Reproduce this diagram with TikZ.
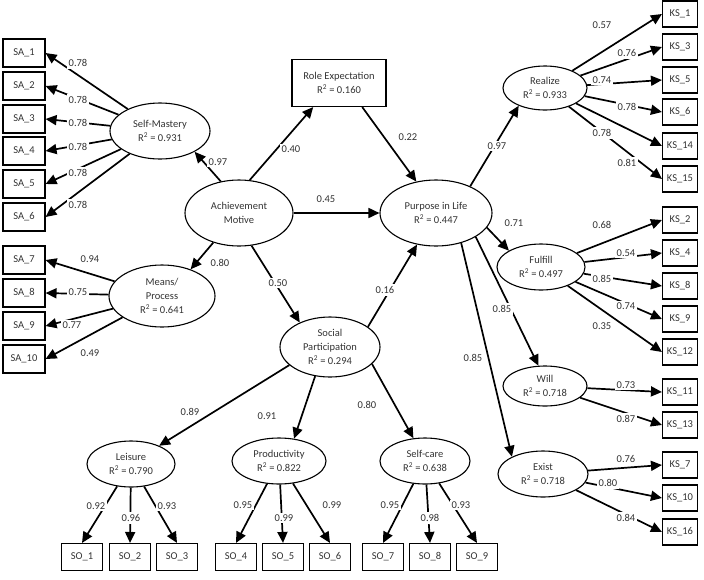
\documentclass[tikz,border=0pt]{standalone}
\usepackage{fontspec}
\setmainfont{Carlito}
\usetikzlibrary{arrows.meta,shapes.geometric}
\newcommand{\Rsq}{R\textsuperscript{2}}
\begin{document}
\begin{tikzpicture}[x=1pt,y=-1pt,
  every node/.style={font=\fontsize{10.5}{14}\selectfont, text=black!80},
  lat/.style={draw, ellipse, line width=1.1pt, inner sep=0pt, align=center},
  sabox/.style={draw, rectangle, line width=1.1pt, minimum width=42pt, minimum height=28pt, inner sep=0pt},
  kbox/.style={draw, rectangle, line width=1.1pt, minimum width=35pt, minimum height=26pt, inner sep=0pt},
  sobox/.style={draw, rectangle, line width=1.1pt, minimum width=41pt, minimum height=27pt, inner sep=0pt},
  arr/.style={line width=1.7pt, -{Triangle[length=11pt,width=10pt]}},
  lbl/.style={fill=white, inner sep=2pt}]
\useasboundingbox (0,0) rectangle (704,579);

% latent variables
\node[lat, minimum width=100pt, minimum height=56pt] (sm) at (160,131) {Self-Mastery\\\Rsq{} = 0.931};
\node[lat, minimum width=108pt, minimum height=66pt] (am) at (239,213) {Achievement\\Motive};
\node[lat, minimum width=106pt, minimum height=62pt] (mp) at (162,296) {Means/\\Process\\\Rsq{} = 0.641};
\node[draw, rectangle, line width=1.1pt, minimum width=94pt, minimum height=47pt, inner sep=0pt, align=center] (role) at (339,83) {Role Expectation\\\Rsq{} = 0.160};
\node[lat, minimum width=112pt, minimum height=66pt] (pil) at (436,213) {Purpose in Life\\\Rsq{} = 0.447};
\node[lat, minimum width=100pt, minimum height=60pt] (sp) at (330,347) {Social\\Participation\\\Rsq{} = 0.294};
\node[lat, minimum width=88pt, minimum height=46pt] (leis) at (131,464) {Leisure\\\Rsq{} = 0.790};
\node[lat, minimum width=94pt, minimum height=46pt] (prod) at (279,461) {Productivity\\\Rsq{} = 0.822};
\node[lat, minimum width=90pt, minimum height=46pt] (selfc) at (425,461) {Self-care\\\Rsq{} = 0.638};
\node[lat, minimum width=84pt, minimum height=44pt] (real) at (545,88) {Realize\\\Rsq{} = 0.933};
\node[lat, minimum width=88pt, minimum height=46pt] (fulf) at (541,267) {Fulfill\\\Rsq{} = 0.497};
\node[lat, minimum width=84pt, minimum height=40pt] (will) at (545,386) {Will\\\Rsq{} = 0.718};
\node[lat, minimum width=90pt, minimum height=46pt] (exist) at (543,474) {Exist\\\Rsq{} = 0.718};

% SA boxes
\node[sabox] (sa1) at (24,53) {SA\_1};
\node[sabox] (sa2) at (24,86) {SA\_2};
\node[sabox] (sa3) at (24,119) {SA\_3};
\node[sabox] (sa4) at (24,151) {SA\_4};
\node[sabox] (sa5) at (24,184) {SA\_5};
\node[sabox] (sa6) at (24,217) {SA\_6};
\node[sabox] (sa7) at (24,260) {SA\_7};
\node[sabox] (sa8) at (24,293) {SA\_8};
\node[sabox] (sa9) at (24,326) {SA\_9};
\node[sabox] (sa10) at (24,359) {SA\_10};

% KS boxes
\node[kbox] (ks1) at (680,14) {KS\_1};
\node[kbox] (ks3) at (680,47) {KS\_3};
\node[kbox] (ks5) at (680,80) {KS\_5};
\node[kbox] (ks6) at (680,112) {KS\_6};
\node[kbox] (ks14) at (680,146) {KS\_14};
\node[kbox] (ks15) at (680,179) {KS\_15};
\node[kbox] (ks2) at (680,220) {KS\_2};
\node[kbox] (ks4) at (680,253) {KS\_4};
\node[kbox] (ks8) at (680,286) {KS\_8};
\node[kbox] (ks9) at (680,319) {KS\_9};
\node[kbox] (ks12) at (680,352) {KS\_12};
\node[kbox] (ks11) at (680,392) {KS\_11};
\node[kbox] (ks13) at (680,425) {KS\_13};
\node[kbox] (ks7) at (680,465) {KS\_7};
\node[kbox] (ks10) at (680,498) {KS\_10};
\node[kbox] (ks16) at (680,532) {KS\_16};

% SO boxes
\node[sobox] (so1) at (82,557) {SO\_1};
\node[sobox] (so2) at (130,557) {SO\_2};
\node[sobox] (so3) at (177,557) {SO\_3};
\node[sobox] (so4) at (236,557) {SO\_4};
\node[sobox] (so5) at (283,557) {SO\_5};
\node[sobox] (so6) at (330,557) {SO\_6};
\node[sobox] (so7) at (383,557) {SO\_7};
\node[sobox] (so8) at (430,557) {SO\_8};
\node[sobox] (so9) at (477,557) {SO\_9};

% structural paths
\draw[arr] (am.120) -- (sm.-31);
\draw[arr] (am.72) -- (role.223);
\draw[arr] (am) -- (pil);
\draw[arr] (role.-46) -- (pil.122);
\draw[arr] (am.229) -- (mp.43);
\draw[arr] (am.-69) -- (sp.141);
\draw[arr] (sp.28) -- (pil.239);
\draw[arr] (pil.38) -- (real.214);
\draw[arr] (pil.-16) -- (fulf.153);
\draw[arr] (pil.-31) -- (will.108);
\draw[arr] (pil.-50) -- (exist.151);
\draw[arr] (sp.204) -- (leis.33);
\draw[arr] (sp.243) -- (prod.56);
\draw[arr] (sp.-22) -- (selfc.117);

% loadings
\foreach \b in {sa1,sa2,sa3,sa4,sa5,sa6} \draw[arr] (sm) -- (\b.east);
\foreach \b in {sa7,sa8,sa9,sa10} \draw[arr] (mp) -- (\b.east);
\foreach \b in {ks1,ks3,ks5,ks6,ks14,ks15} \draw[arr] (real) -- (\b.west);
\foreach \b in {ks2,ks4,ks8,ks9,ks12} \draw[arr] (fulf) -- (\b.west);
\foreach \b in {ks11,ks13} \draw[arr] (will) -- (\b.west);
\foreach \b in {ks7,ks10,ks16} \draw[arr] (exist) -- (\b.west);
\foreach \b in {so1,so2,so3} \draw[arr] (leis) -- (\b.north);
\foreach \b in {so4,so5,so6} \draw[arr] (prod) -- (\b.north);
\foreach \b in {so7,so8,so9} \draw[arr] (selfc) -- (\b.north);

% labels
\node[lbl] (l1) at (218,162) {0.97};
\node[lbl] (l2) at (291,149) {0.40};
\node[lbl] (l3) at (326,199) {0.45};
\node[lbl] (l4) at (408,137) {0.22};
\node[lbl] (l5) at (220,263) {0.80};
\node[lbl] (l6) at (278,283) {0.50};
\node[lbl] (l7) at (385,290) {0.16};
\node[lbl] (l8) at (497,146) {0.97};
\node[lbl] (l9) at (514,223) {0.71};
\node[lbl] (l10) at (502,309) {0.85};
\node[lbl] (l11) at (473,358) {0.85};
\node[lbl] (l12) at (190,412) {0.89};
\node[lbl] (l13) at (267,416) {0.91};
\node[lbl] (l14) at (367,405) {0.80};

\node[lbl] at (78,63) {0.78};
\node[lbl] at (78,100) {0.78};
\node[lbl] at (78,123) {0.78};
\node[lbl] at (78,147) {0.78};
\node[lbl] at (78,173) {0.78};
\node[lbl] at (78,205) {0.78};
\node[lbl] at (90,259) {0.94};
\node[lbl] at (78,292) {0.75};
\node[lbl] at (72,325) {0.77};
\node[lbl] at (90,353) {0.49};

\node[lbl] at (602,25) {0.57};
\node[lbl] at (627,53) {0.76};
\node[lbl] at (602,80) {0.74};
\node[lbl] at (627,107) {0.78};
\node[lbl] at (602,133) {0.78};
\node[lbl] at (627,163) {0.81};
\node[lbl] at (602,225) {0.68};
\node[lbl] at (626,253) {0.54};
\node[lbl] at (602,279) {0.85};
\node[lbl] at (626,306) {0.74};
\node[lbl] at (602,326) {0.35};
\node[lbl] at (626,385) {0.73};
\node[lbl] at (626,419) {0.87};
\node[lbl] at (626,459) {0.76};
\node[lbl] at (608,483) {0.80};
\node[lbl] at (626,518) {0.84};

\node[lbl] at (96,506) {0.92};
\node[lbl] at (131,518) {0.96};
\node[lbl] at (167,506) {0.93};
\node[lbl] at (243,505) {0.95};
\node[lbl] at (284,518) {0.99};
\node[lbl] at (332,505) {0.99};
\node[lbl] at (390,505) {0.95};
\node[lbl] at (430,518) {0.98};
\node[lbl] at (461,505) {0.93};
\end{tikzpicture}
\end{document}
